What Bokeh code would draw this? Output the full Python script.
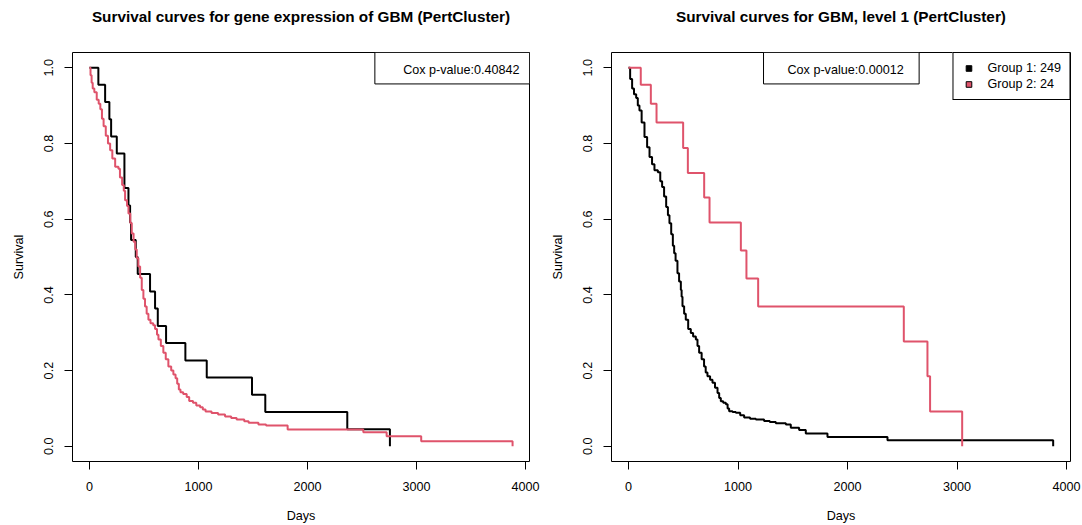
from bokeh.plotting import figure
from bokeh.layouts import row, column
from bokeh.models import (Range1d, FixedTicker, NumeralTickFormatter, BoxAnnotation,
                          Label, Legend, LegendItem, ColumnDataSource)
from bokeh.embed import file_html
from bokeh.resources import INLINE

# ---- Kaplan-Meier step data (day of event, survival after event) ----
# Panel 1: gene expression clusters
expr_g1_days = [0, 82, 144, 183, 199, 251, 321, 358, 373, 382, 425, 443, 556, 602, 627,
                703, 880, 1076, 1491, 1613, 2365, 2756]
expr_g1_surv = [1.0, 0.955, 0.909, 0.864, 0.818, 0.773, 0.682, 0.636, 0.591, 0.545, 0.5,
                0.455, 0.409, 0.364, 0.318, 0.273, 0.227, 0.182, 0.136, 0.091, 0.045, 0.0]

expr_g2_days = [0, 10, 20, 30, 45, 67, 85, 100, 115, 130, 150, 170, 190, 210, 236, 266,
                280, 300, 315, 327, 345, 358, 375, 388, 405, 420, 434, 449, 465, 480, 495,
                510, 525, 541, 560, 585, 602, 620, 633, 655, 678, 700, 724, 750, 770, 790,
                805, 820, 835, 860, 892, 915, 950, 980, 1015, 1040, 1065, 1120, 1180, 1244,
                1300, 1350, 1420, 1460, 1550, 1620, 1818, 2512, 2726, 3043, 3881]
expr_g2_surv = [1.0, 0.98, 0.96, 0.945, 0.935, 0.915, 0.905, 0.89, 0.865, 0.845, 0.82,
                0.80, 0.782, 0.76, 0.738, 0.733, 0.71, 0.69, 0.675, 0.65, 0.635, 0.615,
                0.59, 0.562, 0.54, 0.52, 0.497, 0.475, 0.445, 0.413, 0.39, 0.369, 0.35,
                0.334, 0.325, 0.32, 0.31, 0.295, 0.282, 0.265, 0.247, 0.23, 0.211, 0.2,
                0.19, 0.18, 0.165, 0.15, 0.143, 0.138, 0.13, 0.12, 0.115, 0.108, 0.103,
                0.097, 0.092, 0.088, 0.084, 0.079, 0.075, 0.071, 0.066, 0.062, 0.058,
                0.055, 0.0447, 0.037, 0.027, 0.0134, 0.0]

# Panel 2: level-1 clusters
lvl1_g1_days = [0, 15, 33, 50, 70, 85, 100, 120, 146, 170, 192, 215, 237, 268, 290, 307,
                325, 344, 360, 374, 390, 405, 417, 430, 447, 462, 478, 485, 493, 508, 523,
                545, 569, 590, 615, 630, 645, 668, 690, 705, 721, 745, 767, 790, 813, 828,
                843, 865, 889, 905, 919, 950, 980, 1020, 1056, 1110, 1163, 1238, 1290,
                1345, 1437, 1482, 1558, 1619, 1817, 2365, 3878]
lvl1_g1_surv = [1.0, 0.97, 0.945, 0.93, 0.92, 0.90, 0.887, 0.855, 0.817, 0.79, 0.764,
                0.745, 0.729, 0.724, 0.70, 0.685, 0.66, 0.632, 0.61, 0.589, 0.56, 0.53,
                0.51, 0.49, 0.457, 0.435, 0.413, 0.395, 0.37, 0.35, 0.334, 0.31, 0.299,
                0.29, 0.282, 0.265, 0.247, 0.23, 0.211, 0.195, 0.185, 0.176, 0.168, 0.155,
                0.141, 0.128, 0.119, 0.115, 0.111, 0.10, 0.093, 0.091, 0.089, 0.082,
                0.076, 0.073, 0.071, 0.067, 0.064, 0.061, 0.058, 0.049, 0.043, 0.034,
                0.0245, 0.016, 0.0]

lvl1_g2_days = [0, 112, 204, 256, 499, 542, 691, 740, 1026, 1077, 1184, 2514, 2730, 2754, 3047]
lvl1_g2_surv = [1.0, 0.955, 0.905, 0.855, 0.788, 0.722, 0.657, 0.591, 0.517, 0.443, 0.369,
                0.277, 0.185, 0.092, 0.0]

titles = ["Survival curves for gene expression of GBM (PertCluster)",
          "Survival curves for GBM, level 1 (PertCluster)"]
cox_text = ["Cox p-value:0.40842", "Cox p-value:0.00012"]
legend_labels = ["Group 1: 249", "Group 2: 24"]

x_ticks = [0, 1000, 2000, 3000, 4000]
y_ticks = [0.0, 0.2, 0.4, 0.6, 0.8, 1.0]

BLACK = "#000000"
RED = "#DF536B"
FONT = "Liberation Sans"
TICK_SIZE = "12.6px"

max_day = 3881
pad_x = 0.04 * max_day
x_lo, x_hi = -pad_x, max_day + pad_x
y_lo, y_hi = -0.04, 1.04

PANEL_W = 541
TITLE_H = 32
TOTAL_H = 525


def make_title(text, left_border):
    """A strip above each panel holding its bold main title."""
    t = figure(width=PANEL_W, height=TITLE_H, x_range=Range1d(0, 1), y_range=Range1d(0, 1),
               output_backend="svg", toolbar_location=None,
               x_axis_type=None, y_axis_type=None,
               min_border_left=left_border, min_border_right=12,
               min_border_top=0, min_border_bottom=0)
    t.grid.visible = False
    t.outline_line_color = None
    t.border_fill_color = "white"
    t.add_layout(Label(x=0.5, y=0.5, text=text, text_align="center",
                       text_baseline="middle", text_font=FONT,
                       text_font_size="15.3px", text_font_style="bold",
                       text_color="black"))
    return t


def make_panel(left_border):
    p = figure(width=PANEL_W, height=TOTAL_H - TITLE_H,
               x_range=Range1d(x_lo, x_hi),
               y_range=Range1d(y_lo, y_hi),
               output_backend="svg", toolbar_location=None,
               min_border_left=left_border, min_border_right=12,
               min_border_top=52 - TITLE_H, min_border_bottom=63,
               x_axis_label="Days", y_axis_label="Survival")
    p.grid.visible = False
    p.outline_line_color = "black"
    p.outline_line_width = 1
    p.background_fill_color = "white"
    p.border_fill_color = "white"

    for ax in (p.xaxis[0], p.yaxis[0]):
        ax.axis_line_color = None
        ax.major_tick_line_color = "black"
        ax.major_tick_out = 8
        ax.major_tick_in = 0
        ax.minor_tick_line_color = None
        ax.major_label_text_font = FONT
        ax.major_label_text_font_size = TICK_SIZE
        ax.major_label_text_color = "black"
        ax.axis_label_text_font = FONT
        ax.axis_label_text_font_size = TICK_SIZE
        ax.axis_label_text_font_style = "normal"
        ax.axis_label_text_color = "black"

    p.xaxis.ticker = FixedTicker(ticks=x_ticks)
    p.xaxis.formatter = NumeralTickFormatter(format="0")
    p.xaxis.major_label_standoff = 12
    p.xaxis.axis_label_standoff = 15

    p.yaxis.ticker = FixedTicker(ticks=y_ticks)
    p.yaxis.formatter = NumeralTickFormatter(format="0.0")
    p.yaxis.major_label_orientation = "vertical"
    p.yaxis.major_label_standoff = 11
    p.yaxis.axis_label_standoff = 16
    return p


# ---- left panel ----
t1 = make_title(titles[0], 72)
p1 = make_panel(72)
p1.step(expr_g1_days, expr_g1_surv, mode="after", line_color=BLACK, line_width=2)
p1.step(expr_g2_days, expr_g2_surv, mode="after", line_color=RED, line_width=2)
p1.add_layout(BoxAnnotation(left=2618, right=x_hi, bottom=0.957, top=y_hi,
                            fill_color="white", fill_alpha=1.0,
                            line_color="black", line_width=1, line_alpha=1.0))
p1.add_layout(Label(x=2878, y=0.9947, text=cox_text[0], text_align="left",
                    text_baseline="middle", text_font=FONT, text_font_size=TICK_SIZE,
                    text_color="black"))

# ---- right panel ----
t2 = make_title(titles[1], 70)
p2 = make_panel(70)
p2.step(lvl1_g1_days, lvl1_g1_surv, mode="after", line_color=BLACK, line_width=2)
p2.step(lvl1_g2_days, lvl1_g2_surv, mode="after", line_color=RED, line_width=2)
p2.add_layout(BoxAnnotation(left=1233, right=2654, bottom=0.957, top=y_hi,
                            fill_color="white", fill_alpha=1.0,
                            line_color="black", line_width=1, line_alpha=1.0))
p2.add_layout(Label(x=1452, y=0.9947, text=cox_text[1], text_align="left",
                    text_baseline="middle", text_font=FONT, text_font_size=TICK_SIZE,
                    text_color="black"))

# legend swatches: renderers that hold no visible point
nothing = ColumnDataSource(dict(x=[float("nan")], y=[float("nan")]))
sw1 = p2.scatter("x", "y", source=nothing, marker="square", size=8,
                 fill_color=BLACK, line_color="black")
sw2 = p2.scatter("x", "y", source=nothing, marker="square", size=8,
                 fill_color=RED, line_color="black")
legend = Legend(items=[LegendItem(label=legend_labels[0], renderers=[sw1]),
                       LegendItem(label=legend_labels[1], renderers=[sw2])],
                location="top_right", margin=0, padding=8, spacing=2,
                glyph_width=14, glyph_height=14, label_height=14,
                label_standoff=12, border_line_color="black", border_line_width=1,
                border_line_alpha=1.0, background_fill_alpha=1.0,
                label_text_font=FONT, label_text_font_size=TICK_SIZE,
                label_text_color="black")
p2.add_layout(legend)

layout = row(column(t1, p1), column(t2, p2))
open("out.html", "w").write(file_html(layout, INLINE))
